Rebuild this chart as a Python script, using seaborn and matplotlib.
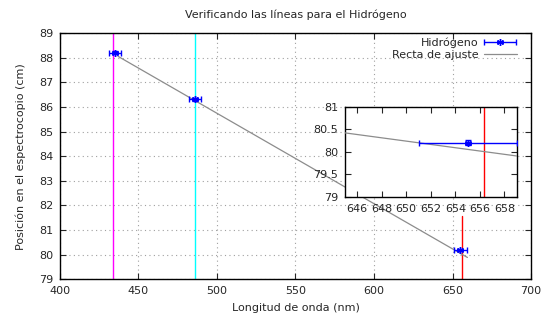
import numpy as np
import pandas as pd
import matplotlib
matplotlib.use("Agg")
import matplotlib.pyplot as plt
from matplotlib.legend_handler import HandlerErrorbar
import seaborn as sns

# Data
wavelength = [435.0, 486.0, 655.0]      # nm
position = [88.2, 86.3, 80.2]           # cm
wavelength_err = [4.0, 4.0, 4.0]
position_err = [0.05, 0.05, 0.05]

fit_slope = -0.0367
fit_intercept = 104.09
fit_range = [437.0, 659.5]

line_wavelengths = [434.0, 486.1, 656.3]
line_colors = ["#ff00ff", "#00ffff", "#ff0000"]
line_tops_main = [89.0, 89.0, 81.55]

title = "Verificando las líneas para el Hidrógeno"
xlabel = "Longitud de onda (nm)"
ylabel = "Posición en el espectrocopio (cm)"
legend_labels = ["Hidrógeno", "Recta de ajuste"]

sns.set_style("ticks")
plt.rcParams['font.family'] = ['DejaVu Sans']
plt.rcParams['font.size'] = 8

BLUE = "#0000ff"
GRAY = "#8c8c8c"

fig = plt.figure(figsize=(5.5, 3.2), dpi=100)
ax = fig.add_axes([0.109, 0.1272, 0.8565, 0.7697])

fit_x = np.linspace(fit_range[0], fit_range[1], 50)
fit_df = pd.DataFrame({"x": fit_x, "y": fit_intercept + fit_slope * fit_x})

eb_style = dict(fmt='none', ecolor=BLUE, elinewidth=1.0, capsize=2.5, capthick=1.0)
mk_style = dict(marker=(6, 2, 0), ms=5, mew=1.0, color=BLUE, linestyle="none")


def draw(axis, tops=None):
    for i, (wl, c) in enumerate(zip(line_wavelengths, line_colors)):
        top = 1.0
        if tops is not None:
            top = (tops[i] - 79.0) / (89.0 - 79.0)
        axis.axvline(wl, ymin=0, ymax=top, color=c, lw=1.0, zorder=2)
    axis.errorbar(wavelength, position, xerr=wavelength_err, yerr=position_err,
                  zorder=4, **eb_style)
    axis.plot(wavelength, position, zorder=5, **mk_style)
    sns.lineplot(data=fit_df, x="x", y="y", ax=axis, color=GRAY, lw=0.9,
                 zorder=3, legend=False)


draw(ax, tops=line_tops_main)
ax.set_xlim(400, 700)
ax.set_ylim(79, 89)
ax.set_xticks(np.arange(400, 701, 50))
ax.set_yticks(np.arange(79, 90, 1))
ax.grid(True, color="#a0a0a0", linestyle=(0, (1, 3)), lw=0.8)
ax.tick_params(direction="in", top=True, right=True, length=4, labelsize=8, pad=5)
for s in ax.spines.values():
    s.set_color("black")
    s.set_linewidth(1.0)
ax.set_xlabel(xlabel, fontsize=8, labelpad=5)
ax.set_ylabel(ylabel, fontsize=8, labelpad=9)
ax.set_title(title, fontsize=8, pad=10.5)

# legend proxies (gnuplot-like: text first, sample after)
proxy_eb = ax.errorbar([np.nan], [np.nan], xerr=[1.0], marker=(6, 2, 0), ms=5,
                       mew=1.0, color=BLUE, ecolor=BLUE, elinewidth=1.0,
                       capsize=2.5, capthick=1.0, linestyle="none")
proxy_line = plt.Line2D([], [], color=GRAY, lw=0.9)
ax.legend([proxy_eb, proxy_line], legend_labels, loc="upper right", frameon=False,
          markerfirst=False, fontsize=8, handlelength=3.0, borderaxespad=0.0,
          borderpad=0.0, handletextpad=0.45, labelspacing=0.2,
          bbox_to_anchor=(0.970, 0.982),
          handler_map={type(proxy_eb): HandlerErrorbar(xerr_size=1.45, numpoints=1)})

# inset
axi = fig.add_axes([0.627, 0.3853, 0.3125, 0.2813])
axi.set_facecolor("white")
draw(axi)
axi.set_xlim(645, 659)
axi.set_ylim(79, 81)
axi.set_xticks(np.arange(646, 659, 2))
axi.set_yticks(np.arange(79, 81.01, 0.5))
axi.set_yticklabels(["79", "79.5", "80", "80.5", "81"])
axi.tick_params(direction="in", top=True, right=True, length=4, labelsize=8, pad=5)
axi.set_xlabel("")
axi.set_ylabel("")
for s in axi.spines.values():
    s.set_color("black")
    s.set_linewidth(1.0)
axi.set_zorder(5)

fig.savefig("out.png", dpi=100)
